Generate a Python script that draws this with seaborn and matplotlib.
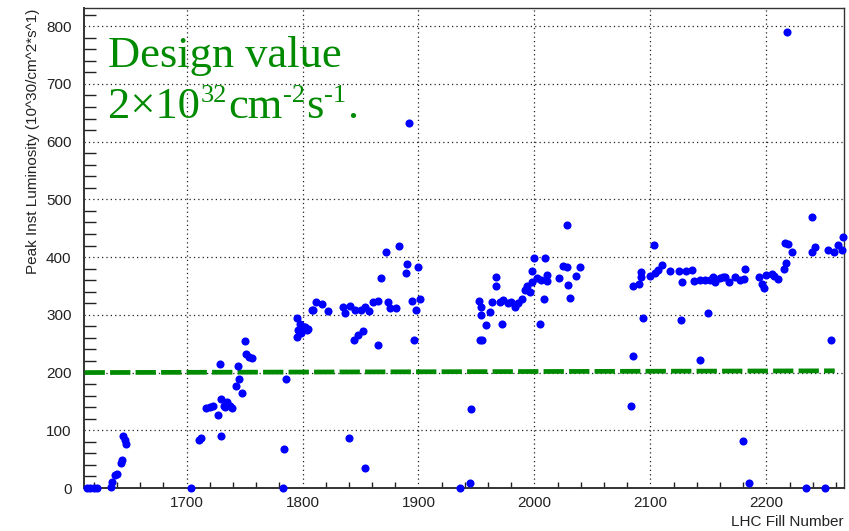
import matplotlib
matplotlib.use("Agg")
import matplotlib.pyplot as plt
import seaborn as sns
import pandas as pd
from matplotlib.ticker import MultipleLocator

# ---- data ----
fill = [1614, 1617, 1620, 1623,
        1635, 1636, 1638, 1640, 1643, 1644, 1645, 1647, 1648,
        1704,
        1711, 1712, 1717, 1720, 1723, 1727, 1729, 1730, 1730, 1732, 1733, 1735, 1737,
        1739, 1743, 1744, 1745, 1748, 1750, 1751, 1754, 1756,
        1783, 1784, 1786,
        1795, 1795, 1796, 1798, 1798, 1799, 1801, 1802, 1804, 1805, 1808, 1809, 1812,
        1817, 1822,
        1835, 1837, 1840, 1841, 1844, 1845, 1848, 1850, 1852, 1854, 1854, 1857, 1861,
        1865, 1865, 1868, 1872, 1874, 1875, 1881, 1883, 1889, 1890, 1892, 1894, 1896,
        1898, 1900, 1901,
        1936, 1944, 1945,
        1952, 1953, 1955, 1954, 1954, 1958, 1962, 1963, 1967, 1967, 1970, 1972, 1973,
        1977, 1980, 1983, 1986, 1989, 1992, 1994, 1996, 1998, 1998, 2000, 2002, 2005,
        2006, 2008, 2009, 2011, 2011,
        2021, 2025, 2028, 2028, 2029, 2031, 2036, 2039,
        2083, 2085, 2085, 2090, 2092, 2092, 2094, 2100, 2103, 2104, 2107, 2110, 2117,
        2125, 2126, 2127, 2131, 2136, 2138, 2143, 2143, 2147, 2150, 2151, 2154, 2156,
        2160, 2163, 2164, 2168, 2173, 2177, 2180, 2181, 2182, 2185,
        2194, 2196, 2198, 2200, 2205, 2207, 2210, 2215, 2216, 2217, 2218, 2219, 2222,
        2234, 2239, 2239, 2242, 2251, 2253, 2256, 2258, 2262, 2265, 2266]
lumi = [0, 0, 0, 0,
        2, 10, 22, 24, 43, 48, 90, 84, 76,
        0,
        83, 86, 139, 140, 142, 126, 214, 90, 154, 142, 140, 149, 142,
        138, 176, 211, 189, 165, 255, 232, 227, 225,
        0, 68, 189,
        294, 261, 274, 284, 273, 268, 279, 279, 273, 276, 308, 308, 322,
        319, 307,
        313, 303, 86, 315, 256, 309, 265, 308, 272, 314, 35, 307, 322,
        324, 248, 363, 409, 322, 311, 311, 419, 372, 388, 632, 324, 256,
        308, 383, 327,
        0, 8, 136,
        324, 256, 256, 313, 299, 282, 305, 322, 350, 366, 322, 284, 325,
        320, 322, 314, 320, 328, 343, 350, 340, 376, 357, 399, 363, 284,
        360, 328, 399, 369, 359,
        363, 384, 382, 455, 351, 330, 367, 382,
        142, 228, 350, 354, 374, 366, 294, 367, 421, 372, 378, 386, 376,
        376, 291, 357, 376, 378, 359, 360, 221, 360, 303, 361, 365, 357,
        363, 365, 366, 357, 365, 360, 81, 362, 379, 8,
        365, 354, 346, 369, 370, 367, 362, 380, 424, 390, 790, 422, 409,
        0, 470, 409, 418, 0, 413, 257, 409, 421, 413, 435]

design_fill = [1612, 2259]
design_lumi = [200, 203]

x_ticks = [1700, 1800, 1900, 2000, 2100, 2200]
y_ticks = [0, 100, 200, 300, 400, 500, 600, 700, 800]

xlabel = "LHC Fill Number"
ylabel = "Peak Inst Luminosity (10^30/cm^2*s^1)"
note1 = "Design value"
# (text piece, is_superscript)
note2_parts = [("2\u00d710", False), ("32", True), ("cm", False), ("-2", True),
               ("s", False), ("-1", True), (".", False)]

df = pd.DataFrame({"fill": fill, "lumi": lumi})
dd = pd.DataFrame({"fill": design_fill, "lumi": design_lumi})

sns.set_theme(style="white")
plt.rcParams["font.family"] = ["Liberation Sans", "DejaVu Sans"]

fig = plt.figure(figsize=(8.49, 5.31), dpi=100)
ax = fig.add_axes([84 / 849, 1 - 488 / 531, (844 - 84) / 849, (488 - 8.3) / 531])

green = "#008a00"
sns.lineplot(data=dd, x="fill", y="lumi", ax=ax, color=green, linewidth=3.4, zorder=3)
line = ax.lines[-1]
line.set_dashes((4.3, 1.1))
line.set_dash_capstyle("butt")

sns.scatterplot(data=df, x="fill", y="lumi", ax=ax, color="#0000ff", s=34,
                linewidth=0, clip_on=False, zorder=4)

ax.set_xlim(1611.5, 2267)
ax.set_ylim(0, 831)
ax.set_xticks(x_ticks)
ax.set_yticks(y_ticks)
ax.xaxis.set_minor_locator(MultipleLocator(20))
ax.yaxis.set_minor_locator(MultipleLocator(20))
ax.grid(True, which="major", linestyle=(0, (1, 2.5)), color="#222222", linewidth=0.9)
ax.set_axisbelow(True)

tc = "#222222"
ax.tick_params(axis="x", which="major", direction="in", length=10, width=1,
               color=tc, labelsize=11, labelcolor=tc, pad=6)
ax.tick_params(axis="x", which="minor", direction="in", length=4.5, width=1, color=tc,
               bottom=True)
ax.tick_params(axis="y", which="major", direction="in", length=16, width=1,
               color=tc, labelsize=11, labelcolor=tc, pad=9)
ax.tick_params(axis="y", which="minor", direction="in", length=8.5, width=1, color=tc,
               left=True)

for s in ax.spines.values():
    s.set_visible(True)
    s.set_color("#333333")
    s.set_linewidth(1.0)
ax.spines["left"].set_linewidth(1.4)
ax.spines["bottom"].set_linewidth(1.4)

ax.set_xlabel(xlabel, loc="right", fontsize=11, color=tc, labelpad=3)
ax.set_ylabel(ylabel, loc="top", fontsize=11, color=tc, labelpad=4)

serif = "Liberation Serif"
fig.text(108 / 849, 1 - 67 / 531, note1, fontsize=32, color=green,
         family=serif, ha="left", va="baseline")

base_y = 531 - 118      # baseline of second line, figure pixels
sup_y = base_y + 16     # baseline of superscripts
prev = None
for txt, sup in note2_parts:
    size = 19 if sup else 32
    y = sup_y if sup else base_y
    if prev is None:
        prev = ax.annotate(txt, xy=(108, y), xycoords="figure pixels",
                           fontsize=size, color=green, family=serif,
                           ha="left", va="baseline", annotation_clip=False)
    else:
        prev = ax.annotate(txt, xy=(1, y), xycoords=(prev, "figure pixels"),
                           xytext=(0.6, 0), textcoords="offset points",
                           fontsize=size, color=green, family=serif,
                           ha="left", va="baseline", annotation_clip=False)

fig.savefig("out.png", dpi=100)
